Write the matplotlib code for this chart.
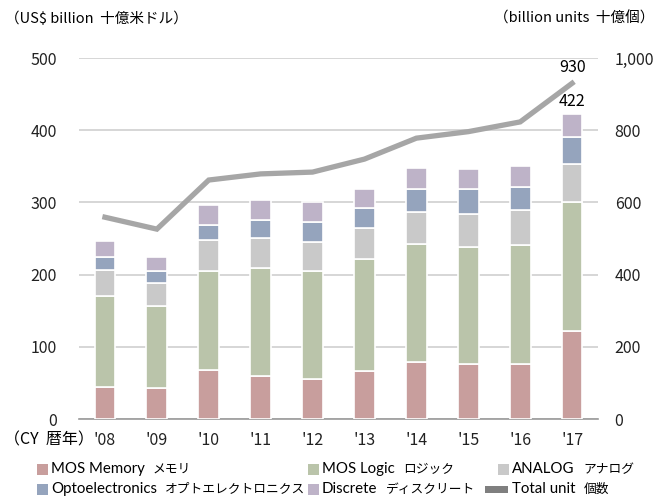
import numpy as np
import matplotlib.pyplot as plt
from matplotlib.patches import Rectangle

plt.rcParams['font.family'] = ['Noto Sans CJK JP', 'DejaVu Sans']

years = ["'08", "'09", "'10", "'11", "'12", "'13", "'14", "'15", "'16", "'17"]
memory = [44, 43, 68, 60, 56, 67, 79, 76, 76, 122]
logic = [126, 114, 137, 149, 149, 155, 163, 162, 165, 178]
analog = [36, 31, 43, 42, 40, 42, 45, 46, 48, 53]
opto = [18, 17, 21, 24, 28, 28, 32, 35, 33, 37]
discrete = [22, 20, 27, 28, 27, 26, 28, 27, 28, 32]
total_units = [559, 526, 662, 679, 684, 720, 778, 796, 823, 930]

series = [
    ('MOS Memory', 'メモリ', memory, '#c89e9d'),
    ('MOS Logic', 'ロジック', logic, '#bac4aa'),
    ('ANALOG', 'アナログ', analog, '#c9c9c9'),
    ('Optoelectronics', 'オプトエレクトロニクス', opto, '#95a4bd'),
    ('Discrete', 'ディスクリート', discrete, '#beb3c8'),
]
leg_font = ['Lato', 'Noto Sans CJK JP', 'DejaVu Sans']

fig = plt.figure(figsize=(6.6, 4.98), dpi=100)
ax = fig.add_axes([0.1197, 0.1586, 0.7864, 0.7249])
ax2 = ax.twinx()

x = np.arange(len(years))
bottom = np.zeros(len(years))
for en, jp, vals, col in series:
    ax.bar(x, vals, width=0.4, bottom=bottom, color=col, edgecolor='white', linewidth=1.2, zorder=3)
    bottom += np.array(vals)

ax.set_xlim(-0.5, 9.5)
ax.set_ylim(0, 500)
ax.set_yticks(range(0, 501, 100))
ax.yaxis.grid(True, color='#d0d0d0', linewidth=1.2, zorder=0)
ax.set_axisbelow(True)
ax.set_xticks(x)
ax.set_xticklabels(years)
for s in ['top', 'right', 'left']:
    ax.spines[s].set_visible(False)
ax.spines['bottom'].set_color('#9a9a9a')
ax.spines['bottom'].set_linewidth(1.2)
ax.tick_params(axis='both', length=0, labelsize=11.5, colors='#222222')
ax.tick_params(axis='y', pad=16)
ax.tick_params(axis='x', pad=9)

# 個数 line on the right axis
ax2.plot(x, total_units, color='#a6a6a6', linewidth=3.8, solid_joinstyle='miter', zorder=5)
ax2.set_ylim(0, 1000)
ax2.set_yticks(range(0, 1001, 200))
ax2.set_yticklabels(['0', '200', '400', '600', '800', '1,000'])
for s in ax2.spines.values():
    s.set_visible(False)
ax2.tick_params(axis='y', length=0, labelsize=11.5, colors='#222222', pad=12)

ax.text(x[-1], bottom[-1] + 6, str(int(bottom[-1])), ha='center', va='bottom', fontsize=11.5)
ax2.text(x[-1], total_units[-1] + 20, str(total_units[-1]), ha='center', va='bottom', fontsize=11.5)

fig.text(0.008, 0.963, '（US$ billion  十億米ドル）', fontsize=10.5, va='center', ha='left')
fig.text(0.992, 0.963, '（billion units  十億個）', fontsize=10.5, va='center', ha='right')
fig.text(0.006, 0.117, '（CY  暦年）', fontsize=11.5, va='center', ha='left')


def leg_label(lx, ly, en, jp):
    t = fig.text(lx, ly, en, fontsize=10.8, va='center', ha='left', family=leg_font)
    # japanese part a bit smaller, placed right after the english part
    fig.add_artist(plt.Annotation(jp, xy=(1, 0.5), xycoords=t, xytext=(6, 0),
                                  textcoords='offset points', va='center', ha='left',
                                  fontsize=9.2, annotation_clip=False))


# legend drawn by hand in figure coords
leg_pos = [(0.056, 0.058), (0.467, 0.058), (0.755, 0.058),
           (0.056, 0.018), (0.467, 0.018)]
for (en, jp, vals, col), (lx, ly) in zip(series, leg_pos):
    fig.patches.append(Rectangle((lx, ly - 0.011), 0.016, 0.022, transform=fig.transFigure,
                                 facecolor=col, edgecolor='none'))
    leg_label(lx + 0.021, ly, en, jp)
fig.patches.append(Rectangle((0.735, 0.018 - 0.007), 0.035, 0.014, transform=fig.transFigure,
                             facecolor='#7f7f7f', edgecolor='none'))
leg_label(0.776, 0.018, 'Total unit', '個数')

fig.savefig('out.png', dpi=100)
